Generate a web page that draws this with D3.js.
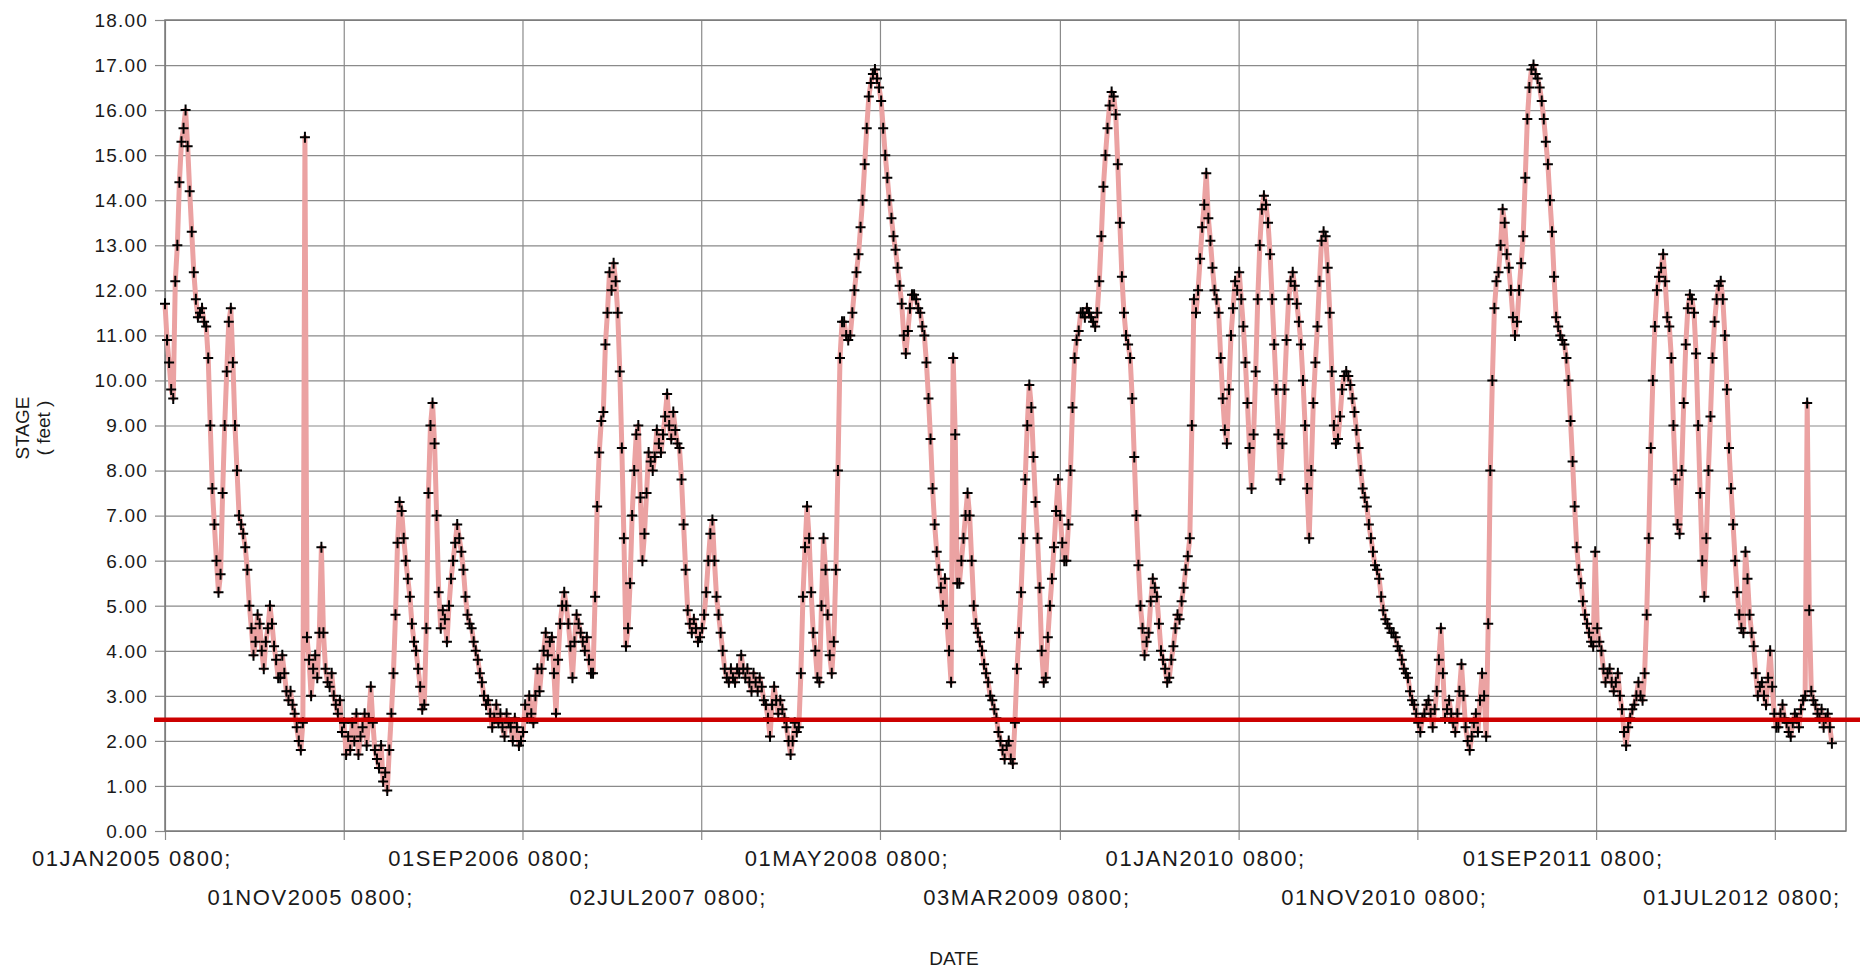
<!DOCTYPE html>
<html>
<head>
<meta charset="utf-8">
<script src="https://cdn.jsdelivr.net/npm/d3@7"></script>
<style>
  body { margin: 0; background: #fff; }
  svg { display: block; }
</style>
</head>
<body>
<div id="graphic"></div>
<script>
// Stage readings (feet): one at the start of each week from 01JAN2005 0800,
// and one half a week (84 h) later
const startDate = new Date(2005, 0, 1, 8);
const endDate = new Date(2012, 9, 30, 8);

const stageWeeks1 = [11.7, 10.4, 9.6, 13.0, 15.3, 16.0, 14.2, 12.4, 11.4, 11.6, 11.2, 9.0, 6.8, 5.3, 7.5, 10.2,
  11.6, 9.0, 7.0, 6.6, 5.8, 4.5, 4.2, 4.6, 3.6, 4.5, 4.6, 3.8, 3.4, 3.5, 2.9, 2.8, 2.3, 1.8, 15.4, 3.8,
  3.6, 3.4, 6.3, 3.6, 3.2, 3.0, 2.6, 2.2, 1.7, 1.8, 2.0, 1.7, 2.3, 1.9, 3.2, 1.8];
const stageWeeks2 = [1.4, 1.1, 0.9, 2.6, 4.8, 7.3, 6.5, 5.6, 4.6, 4.0, 3.2, 2.8, 7.5, 9.5, 7.0, 4.5,
  4.7, 5.0, 6.0, 6.8, 6.2, 5.2, 4.6, 4.2, 3.8, 3.3, 2.8, 2.6, 2.5, 2.4, 2.3, 2.6, 2.3, 2.5, 1.9, 2.2,
  2.5, 2.6, 3.0, 3.1, 4.0, 3.9, 4.3, 2.6, 4.6, 5.3, 4.6, 3.4, 4.8, 4.4, 4.0, 3.8];
const stageWeeks3 = [3.5, 7.2, 9.1, 10.8, 12.4, 12.6, 11.5, 8.5, 4.1, 5.5, 8.0, 9.0, 6.0, 7.5, 8.2, 8.3,
  8.6, 8.8, 9.7, 8.7, 8.9, 8.5, 6.8, 4.9, 4.4, 4.5, 4.3, 4.8, 6.0, 6.9, 5.2, 4.4, 3.6, 3.3, 3.4, 3.6,
  3.9, 3.4, 3.3, 3.5, 3.1, 3.2, 2.8, 2.1, 3.2, 2.6, 2.7, 2.3, 1.7, 2.4, 2.3, 5.2];
const stageWeeks4 = [7.2, 5.3, 4.0, 3.3, 6.5, 4.8, 3.5, 5.8, 10.5, 11.3, 10.9, 11.5, 12.4, 13.4, 14.8, 16.3,
  16.8, 16.7, 16.2, 15.0, 14.0, 13.2, 12.5, 11.7, 10.6, 11.6, 11.9, 11.6, 11.2, 10.4, 8.7, 6.8, 5.8, 5.0,
  4.6, 3.3, 8.8, 5.5, 6.5, 7.5, 6.0, 4.6, 4.2, 3.7, 3.3, 2.9, 2.5, 2.0, 1.6, 2.0, 1.5, 3.6];
const stageWeeks5 = [5.3, 7.8, 9.9, 8.3, 6.5, 4.0, 3.4, 5.0, 6.3, 7.8, 6.4, 6.0, 8.0, 10.5, 11.1, 11.5,
  11.6, 11.4, 11.2, 12.2, 14.3, 15.6, 16.4, 15.9, 13.5, 11.5, 10.8, 9.6, 7.0, 5.0, 3.9, 4.4, 5.6, 5.2,
  4.0, 3.6, 3.4, 4.1, 4.8, 5.1, 5.8, 6.5, 11.8, 12.0, 13.4, 14.6, 13.1, 12.0, 11.5, 9.6, 8.6, 11.0];
const stageWeeks6 = [12.2, 12.4, 11.2, 9.5, 7.6, 10.2, 13.0, 14.1, 13.5, 11.8, 9.8, 7.8, 9.8, 11.8, 12.4, 11.7,
  10.8, 9.0, 6.5, 9.5, 11.2, 13.1, 13.2, 11.5, 9.0, 8.7, 9.8, 10.2, 9.9, 9.3, 8.5, 7.6, 7.2, 6.5, 5.9,
  5.6, 4.9, 4.6, 4.4, 4.3, 4.0, 3.6, 3.4, 2.9, 2.6, 2.2, 2.6, 2.9, 2.3, 3.1, 4.5, 2.5];
const stageWeeks7 = [2.9, 2.4, 2.6, 3.7, 2.3, 1.8, 2.4, 2.2, 3.5, 2.1, 8.0, 11.6, 12.4, 13.8, 12.8, 12.0,
  11.0, 12.0, 13.2, 15.8, 16.9, 16.8, 16.5, 15.8, 14.8, 13.3, 11.4, 11.0, 10.8, 10.0, 8.2, 6.3, 5.5, 4.8,
  4.4, 4.1, 4.5, 4.0, 3.3, 3.6, 3.1, 3.5, 2.7, 1.9, 2.5, 2.8, 3.3, 2.9, 4.8, 8.5, 11.2, 12.3];
const stageWeeks8 = [12.8, 11.4, 10.5, 7.8, 6.6, 9.5, 11.6, 11.8, 10.6, 7.5, 5.2, 8.0, 10.5, 11.8, 12.2, 11.0,
  8.5, 6.8, 5.3, 4.5, 6.2, 4.8, 4.1, 3.0, 3.3, 2.8, 4.0, 2.6, 2.3, 2.8, 2.4, 2.1, 2.6, 2.3, 2.9, 9.5,
  3.1, 2.8, 2.5, 2.3, 2.6, 1.95];

const stageMid1 = [10.9, 9.8, 12.2, 14.4, 15.6, 15.2, 13.3, 11.8, 11.5, 11.3, 10.5, 7.6, 6.0, 5.7, 9.0, 11.3,
  10.4, 8.0, 6.8, 6.3, 5.0, 3.9, 4.8, 4.0, 4.2, 5.0, 4.1, 3.4, 3.9, 3.1, 3.1, 2.6, 2.0, 2.4, 4.3, 3.0,
  3.9, 4.4, 4.4, 3.3, 3.5, 2.8, 2.9, 2.4, 2.1, 2.4, 2.6, 2.1, 2.6, 2.5, 2.4, 1.6];
const stageMid2 = [1.9, 1.3, 1.8, 3.5, 6.4, 7.1, 6.0, 5.2, 4.2, 3.6, 2.7, 4.5, 9.0, 8.6, 5.3, 4.9,
  4.2, 5.6, 6.4, 6.5, 5.8, 4.8, 4.5, 4.0, 3.5, 3.0, 2.9, 2.3, 2.8, 2.6, 2.1, 2.4, 2.0, 2.3, 2.0, 2.8,
  3.0, 2.4, 3.6, 3.6, 4.4, 4.2, 3.5, 3.8, 5.0, 5.0, 4.1, 4.2, 4.6, 4.2, 4.3, 3.5];
const stageMid3 = [5.2, 8.4, 9.3, 11.5, 12.0, 12.2, 10.2, 6.5, 4.5, 7.0, 8.8, 7.4, 6.6, 8.4, 8.0, 8.9,
  8.4, 9.2, 9.0, 9.3, 8.6, 7.8, 5.8, 4.6, 4.7, 4.2, 4.5, 5.3, 6.6, 6.0, 4.8, 4.0, 3.4, 3.6, 3.3, 3.5,
  3.6, 3.6, 3.1, 3.3, 3.4, 2.9, 2.5, 2.8, 2.9, 2.9, 2.5, 2.0, 2.0, 2.2, 3.5, 6.3];
const stageMid4 = [6.5, 4.4, 3.4, 5.0, 5.8, 3.9, 4.2, 8.0, 11.3, 11.0, 11.0, 12.0, 12.8, 14.0, 15.6, 16.6,
  16.9, 16.5, 15.6, 14.5, 13.6, 12.9, 12.1, 11.0, 11.1, 11.9, 11.8, 11.5, 11.0, 9.6, 7.6, 6.2, 5.4, 5.6,
  4.0, 10.5, 5.5, 6.0, 7.0, 7.0, 5.0, 4.4, 4.0, 3.5, 3.0, 2.7, 2.2, 1.8, 1.9, 1.6, 2.4, 4.4];
const stageMid5 = [6.5, 9.0, 9.4, 7.3, 5.4, 3.3, 4.3, 5.6, 7.1, 7.0, 6.0, 6.8, 9.4, 10.9, 11.5, 11.4,
  11.5, 11.3, 11.5, 13.2, 15.0, 16.1, 16.3, 14.8, 12.3, 11.0, 10.5, 8.3, 5.9, 4.5, 4.2, 5.1, 5.4, 4.6,
  3.8, 3.3, 3.8, 4.5, 4.7, 5.4, 6.1, 9.0, 11.5, 12.7, 13.9, 13.6, 12.5, 11.8, 10.5, 8.9, 9.8, 11.6];
const stageMid6 = [12.0, 11.8, 10.4, 8.5, 8.8, 11.8, 13.8, 13.9, 12.8, 10.8, 8.8, 8.6, 10.9, 12.2, 12.1, 11.3,
  10.0, 7.6, 8.0, 10.4, 12.2, 13.3, 12.5, 10.2, 8.6, 9.2, 10.1, 10.1, 9.6, 8.9, 8.0, 7.4, 6.8, 6.2, 5.8,
  5.2, 4.7, 4.5, 4.4, 4.1, 3.8, 3.5, 3.1, 2.8, 2.4, 2.5, 2.8, 2.6, 2.7, 3.8, 3.5, 2.7];
const stageMid7 = [2.6, 2.2, 3.1, 3.0, 2.0, 2.1, 2.6, 2.9, 3.0, 4.6, 10.0, 12.2, 13.0, 13.5, 12.5, 11.4,
  11.3, 12.6, 14.5, 16.5, 17.0, 16.7, 16.2, 15.3, 14.0, 12.3, 11.2, 10.9, 10.5, 9.1, 7.2, 5.8, 5.1, 4.6,
  4.2, 6.2, 4.2, 3.6, 3.5, 3.3, 3.3, 3.0, 2.2, 2.3, 2.7, 3.0, 3.0, 3.5, 6.5, 10.0, 12.0, 12.5];
const stageMid8 = [12.2, 11.2, 9.0, 6.8, 8.0, 10.8, 11.9, 11.5, 9.0, 6.0, 6.5, 9.2, 11.3, 12.1, 11.8, 9.8,
  7.6, 6.0, 4.8, 4.4, 5.6, 4.4, 3.5, 3.2, 3.0, 3.4, 3.2, 2.3, 2.6, 2.5, 2.2, 2.4, 2.5, 2.7, 3.0, 4.9,
  2.9, 2.6, 2.7, 2.5, 2.3];

const tickDates = [
  new Date(2005, 0, 1, 8), new Date(2005, 10, 1, 8), new Date(2006, 8, 1, 8), new Date(2007, 6, 2, 8),
  new Date(2008, 4, 1, 8), new Date(2009, 2, 3, 8), new Date(2010, 0, 1, 8), new Date(2010, 10, 1, 8),
  new Date(2011, 8, 1, 8), new Date(2012, 6, 1, 8)
];
const tickLabels = [
  "01JAN2005 0800;", "01NOV2005 0800;", "01SEP2006 0800;", "02JUL2007 0800;", "01MAY2008 0800;",
  "03MAR2009 0800;", "01JAN2010 0800;", "01NOV2010 0800;", "01SEP2011 0800;", "01JUL2012 0800;"
];
const yTickValues = [0, 1, 2, 3, 4, 5, 6, 7, 8, 9, 10, 11, 12, 13, 14, 15, 16, 17, 18];
const referenceStage = 2.47;

const weekly = [].concat(stageWeeks1, stageWeeks2, stageWeeks3, stageWeeks4,
  stageWeeks5, stageWeeks6, stageWeeks7, stageWeeks8);
const midweek = [].concat(stageMid1, stageMid2, stageMid3, stageMid4,
  stageMid5, stageMid6, stageMid7, stageMid8);
const data = [];
weekly.forEach((v, i) => {
  data.push({ date: d3.timeHour.offset(startDate, 168 * i), stage: v });
  if (i < midweek.length) data.push({ date: d3.timeHour.offset(startDate, 168 * i + 84), stage: midweek[i] });
});

const W = 1860, H = 969;
const margin = { top: 20, right: 14, bottom: 138, left: 165 };
const width = W - margin.left - margin.right;
const height = H - margin.top - margin.bottom;
const font = "'Liberation Sans', Arial, sans-serif";

const svg = d3.select("#graphic").append("svg")
  .attr("width", W)
  .attr("height", H);

const g = svg.append("g")
  .attr("transform", `translate(${margin.left},${margin.top})`);

const x = d3.scaleTime().domain([startDate, endDate]).range([0, width]);
const y = d3.scaleLinear().domain([0, 18]).range([height, 0]);

// horizontal gridlines + left ticks
g.append("g")
  .call(d3.axisLeft(y).tickValues(yTickValues).tickSize(-width).tickSizeOuter(0).tickFormat(""))
  .call(a => a.select(".domain").remove())
  .call(a => a.selectAll("line").attr("stroke", "#8a8a8a").attr("stroke-width", 1.2));
g.append("g")
  .call(d3.axisLeft(y).tickValues(yTickValues).tickSize(10).tickSizeOuter(0).tickFormat(""))
  .call(a => a.select(".domain").remove())
  .call(a => a.selectAll("line").attr("stroke", "#8a8a8a").attr("stroke-width", 1.2));

// vertical gridlines + bottom ticks
g.append("g")
  .call(d3.axisBottom(x).tickValues(tickDates).tickSize(height).tickFormat(""))
  .call(a => a.select(".domain").remove())
  .call(a => a.selectAll("line").attr("stroke", "#8a8a8a").attr("stroke-width", 1.2));
g.append("g")
  .attr("transform", `translate(0,${height})`)
  .call(d3.axisBottom(x).tickValues(tickDates).tickSize(9).tickFormat(""))
  .call(a => a.select(".domain").remove())
  .call(a => a.selectAll("line").attr("stroke", "#8a8a8a").attr("stroke-width", 1.2));

// plot frame
g.append("rect")
  .attr("width", width).attr("height", height)
  .attr("fill", "none").attr("stroke", "#7a7a7a").attr("stroke-width", 1.5);

// y labels
g.selectAll(".ylab").data(yTickValues).join("text")
  .attr("class", "ylab")
  .attr("x", -17)
  .attr("y", d => y(d))
  .attr("dy", "0.36em")
  .attr("text-anchor", "end")
  .attr("font-family", font).attr("font-size", 19).attr("letter-spacing", 1.2)
  .attr("fill", "#1a1a1a")
  .text(d => d.toFixed(2));

// x labels, staggered in two rows
g.selectAll(".xlab").data(tickDates).join("text")
  .attr("class", "xlab")
  .attr("x", d => x(d) - 33)
  .attr("y", (d, i) => height + (i % 2 === 0 ? 35 : 74))
  .attr("text-anchor", "middle")
  .attr("font-family", font).attr("font-size", 22).attr("letter-spacing", 1.6)
  .attr("fill", "#1a1a1a")
  .text((d, i) => tickLabels[i]);

// stage line
g.append("path")
  .datum(data)
  .attr("fill", "none")
  .attr("stroke", "#eba2a2")
  .attr("stroke-width", 5)
  .attr("stroke-linejoin", "round")
  .attr("d", d3.line().x(d => x(d.date)).y(d => y(d.stage)));

// crosshair markers
g.selectAll(".pt").data(data).join("path")
  .attr("class", "pt")
  .attr("transform", d => `translate(${x(d.date)},${y(d.stage)})`)
  .attr("d", "M-5,0H5M0,-5.5V5.5")
  .attr("stroke", "#000")
  .attr("stroke-width", 2);

// reference stage line
g.append("line")
  .attr("x1", -11).attr("x2", W - margin.left)
  .attr("y1", y(referenceStage)).attr("y2", y(referenceStage))
  .attr("stroke", "#cc0000")
  .attr("stroke-width", 4.5);

// axis titles
svg.append("text")
  .attr("x", 954).attr("y", 965)
  .attr("text-anchor", "middle")
  .attr("font-family", font).attr("font-size", 19)
  .attr("fill", "#1a1a1a")
  .text("DATE");

const yTitle = svg.append("text")
  .attr("transform", "translate(29,428) rotate(-90)")
  .attr("text-anchor", "middle")
  .attr("font-family", font).attr("font-size", 19)
  .attr("fill", "#1a1a1a");
yTitle.append("tspan").attr("x", 0).attr("dy", 0).text("STAGE");
yTitle.append("tspan").attr("x", 0).attr("dy", 21).text("( feet )");
</script>
</body>
</html>
